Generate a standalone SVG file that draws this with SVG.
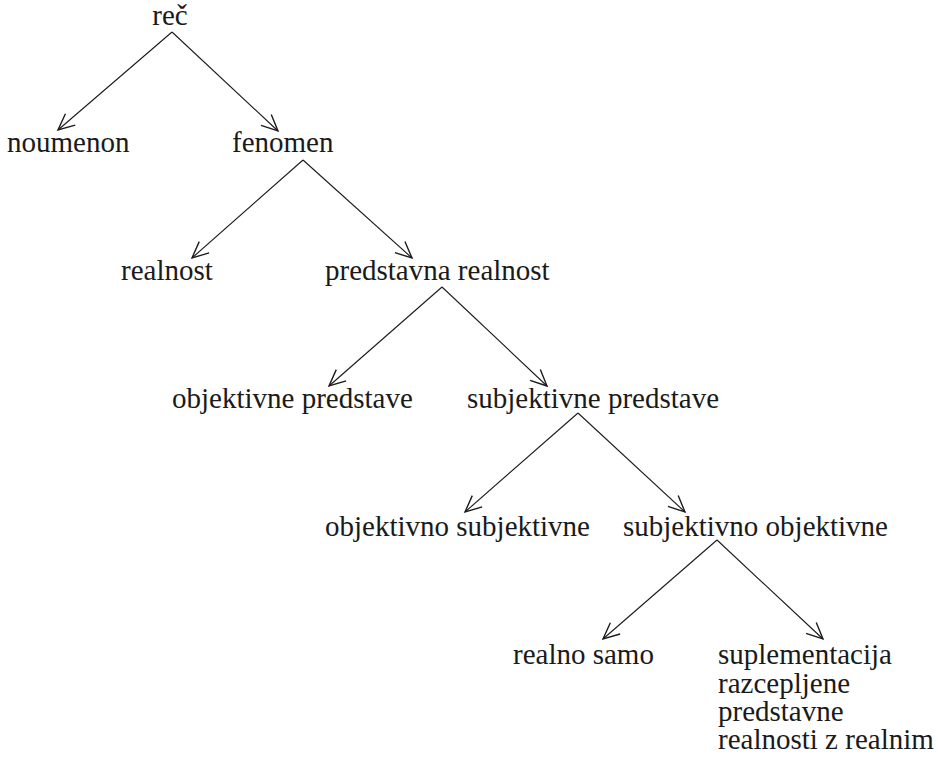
<svg xmlns="http://www.w3.org/2000/svg" width="938" height="763" viewBox="0 0 938 763">
<defs>
<style>
.t text{font-family:'Liberation Serif','Times New Roman',serif;font-size:29px;fill:#1a1a1a}
.c line{stroke:#1a1a1a;stroke-width:1.1;fill:none;marker-end:url(#ah)}
</style>
<marker id="ah" markerUnits="userSpaceOnUse" markerWidth="20" markerHeight="20" viewBox="-14 -8 16 16" refX="0" refY="0" orient="auto">
<path d="M-13,-6 L0,0 L-13,6" fill="none" stroke="#1a1a1a" stroke-width="1.1"/>
</marker>
</defs>
<rect width="938" height="763" fill="#fff"/>
<g id="connectors" class="c">
<line x1="172" y1="32" x2="58" y2="130"/>
<line x1="172" y1="32" x2="278" y2="131"/>
<line x1="303" y1="160" x2="192" y2="258"/>
<line x1="303" y1="160" x2="412" y2="258"/>
<line x1="442" y1="287" x2="329" y2="386"/>
<line x1="442" y1="287" x2="547" y2="386"/>
<line x1="578" y1="413" x2="465" y2="512"/>
<line x1="578" y1="413" x2="685" y2="512"/>
<line x1="717" y1="540" x2="603" y2="639"/>
<line x1="717" y1="540" x2="823" y2="639"/>
</g>
<g class="t">
<g id="n-rec"><text x="170" y="25" text-anchor="middle">reč</text></g>
<g id="n-noumenon"><text x="7" y="152">noumenon</text></g>
<g id="n-fenomen"><text x="232" y="152">fenomen</text></g>
<g id="n-realnost"><text x="121" y="280">realnost</text></g>
<g id="n-predstavna"><text x="325" y="280">predstavna realnost</text></g>
<g id="n-objpred"><text x="172" y="408">objektivne predstave</text></g>
<g id="n-subjpred"><text x="467" y="408">subjektivne predstave</text></g>
<g id="n-objsubj"><text x="325" y="536">objektivno subjektivne</text></g>
<g id="n-subjobj"><text x="623" y="536">subjektivno objektivne</text></g>
<g id="n-realnosamo"><text x="513" y="664">realno samo</text></g>
<g id="n-suplementacija"><text x="718" y="664"><tspan x="718" y="664">suplementacija</tspan><tspan x="718" y="693">razcepljene</tspan><tspan x="718" y="721">predstavne</tspan><tspan x="718" y="749">realnosti z realnim</tspan></text></g>
</g>
</svg>
